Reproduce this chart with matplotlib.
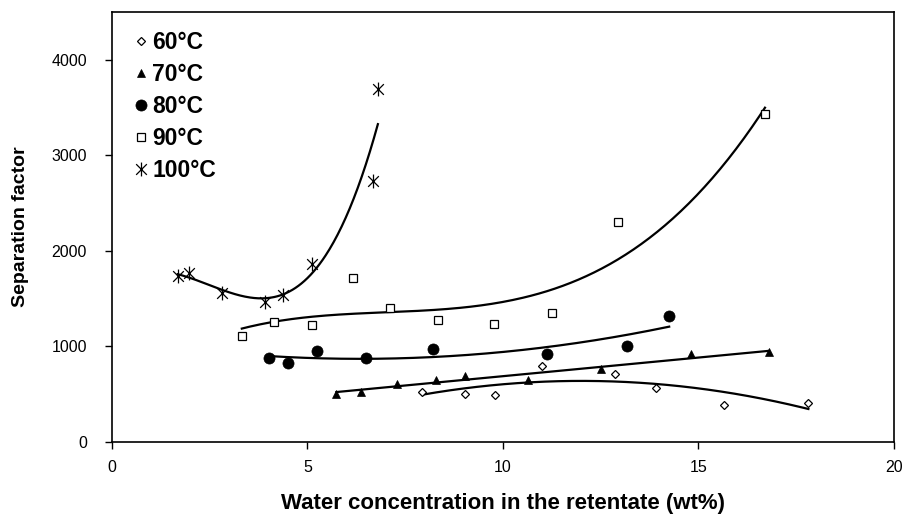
import numpy as np
import matplotlib
matplotlib.use("Agg")
import matplotlib.pyplot as plt
from matplotlib.path import Path

plt.rcParams['font.family'] = ['Liberation Sans', 'DejaVu Sans']

# ---- data ----
x60 = [7.94, 9.04, 9.80, 10.99, 12.86, 13.91, 15.66, 17.81]
y60 = [528, 500, 490, 798, 710, 570, 385, 413]

x70 = [5.74, 6.38, 7.28, 8.29, 9.03, 10.63, 12.50, 14.80, 16.80]
y70 = [507, 525, 605, 654, 693, 651, 763, 920, 938]

x80 = [4.01, 4.49, 5.24, 6.50, 8.22, 11.13, 13.18, 14.25]
y80 = [875, 826, 948, 882, 969, 924, 1001, 1323]

x90 = [3.32, 4.14, 5.12, 6.16, 7.11, 8.33, 9.78, 11.25, 12.95, 16.70]
y90 = [1113, 1257, 1221, 1715, 1403, 1274, 1232, 1351, 2303, 3430]

x100 = [1.68, 1.98, 2.82, 3.91, 4.37, 5.12, 6.68, 6.80]
y100 = [1732, 1771, 1557, 1470, 1543, 1865, 2730, 3695]

labels = ['60°C', '70°C', '80°C', '90°C', '100°C']
fit_orders = [2, 1, 2, 3, 3]
xticks = [0, 5, 10, 15, 20]
yticks = [0, 1000, 2000, 3000, 4000]

# Excel-like star marker: x plus vertical bar
star = Path([(-1, -1), (1, 1), (-1, 1), (1, -1), (0, -1.3), (0, 1.3)],
            [Path.MOVETO, Path.LINETO, Path.MOVETO, Path.LINETO, Path.MOVETO, Path.LINETO])

fig = plt.figure(figsize=(9.04, 5.21), dpi=100)
ax = fig.add_axes([112/904, 1-442/521, (894-112)/904, (442-12)/521])

styles = [
    dict(marker='D', ms=4.5, mfc='white', mec='black', mew=0.9),
    dict(marker='^', ms=6, mfc='black', mec='black', mew=0.5),
    dict(marker='o', ms=8, mfc='black', mec='black', mew=0.5),
    dict(marker='s', ms=6, mfc='white', mec='black', mew=0.9),
    dict(marker=star, ms=10, mfc='none', mec='black', mew=0.9),
]
series = [(x60, y60), (x70, y70), (x80, y80), (x90, y90), (x100, y100)]

for (xs, ys), st, lab, order in zip(series, styles, labels, fit_orders):
    ax.plot(xs, ys, ls='none', label=lab, zorder=3, **st)
    c = np.polyfit(xs, ys, order)
    xx = np.linspace(min(xs), max(xs), 200)
    ax.plot(xx, np.polyval(c, xx), color='black', lw=1.6, zorder=2)

ax.set_xlim(0, 20)
ax.set_ylim(0, 4500)
ax.set_xticks(xticks)
ax.set_yticks(yticks)
ax.tick_params(labelsize=11.5, length=5, width=1, direction='out')
ax.tick_params(axis='x', pad=8)
ax.tick_params(axis='y', pad=13)
for s in ax.spines.values():
    s.set_linewidth(1.2)

ax.set_xlabel('Water concentration in the retentate (wt%)', fontsize=16, fontweight='bold', labelpad=13)
ax.set_ylabel('Separation factor', fontsize=14, fontweight='bold', labelpad=16)

leg = ax.legend(loc='upper left', bbox_to_anchor=(0.018, 0.977), frameon=False,
                prop=dict(size=16.5, weight='bold'), handlelength=0.5, handletextpad=0.25,
                labelspacing=0.39, borderaxespad=0)

fig.savefig('out.png', dpi=100)
